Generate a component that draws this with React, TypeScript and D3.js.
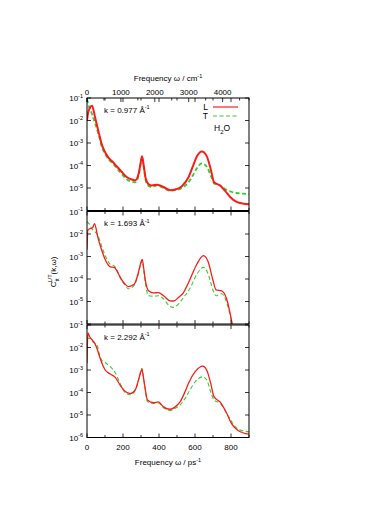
import React from "react";
import * as d3 from "d3";

// frequency grids (ps^-1) and spectra
const w1 = [0, 8, 28, 46, 64, 83, 100, 120, 145, 166, 195, 222, 250, 268, 288, 298, 306, 315, 327, 345, 360, 390, 430, 462, 490, 527, 564, 591, 610, 638, 665, 688, 706, 739, 767, 798, 831, 870, 900];
const L1 = [1e-2, 2.5e-2, 4.5e-2, 1.26e-2, 3.2e-3, 8.3e-4, 4e-4, 2.2e-4, 1.4e-4, 9e-5, 5e-5, 3e-5, 2.4e-5, 2.2e-5, 4.8e-5, 1.3e-4, 2.6e-4, 1e-4, 2.5e-5, 1.4e-5, 1.3e-5, 1.4e-5, 1.05e-5, 8e-6, 8.5e-6, 1.2e-5, 3e-5, 1.05e-4, 2.5e-4, 4.2e-4, 2.6e-4, 6.5e-5, 1.8e-5, 1.3e-5, 7.5e-6, 3.8e-6, 2.4e-6, 2e-6, 1.9e-6];
const T1 = [9e-2, 5e-2, 1.9e-2, 7e-3, 2.5e-3, 6.5e-4, 3.3e-4, 1.9e-4, 1.2e-4, 7.5e-5, 4e-5, 2.4e-5, 1.9e-5, 1.8e-5, 4e-5, 1.2e-4, 2.4e-4, 9e-5, 2e-5, 1.2e-5, 1.1e-5, 1.3e-5, 9.5e-6, 7.5e-6, 8e-6, 1e-5, 1.8e-5, 4e-5, 7.5e-5, 1.25e-4, 9e-5, 3.5e-5, 1.6e-5, 1.3e-5, 9e-6, 7e-6, 6e-6, 5.6e-6, 5.5e-6];

const w2 = [0, 5, 15, 30, 42, 59, 81, 101, 129, 151, 165, 181, 212, 230, 262, 286, 298, 307, 315, 323, 342, 369, 397, 425, 462, 480, 508, 536, 573, 610, 647, 674, 698, 717, 748, 776, 798, 812, 830];
const L2 = [2e-3, 1.5e-2, 1.7e-2, 1.85e-2, 2.9e-2, 7.9e-3, 2e-3, 7.4e-4, 3.5e-4, 3.3e-4, 2.4e-4, 1.35e-4, 5.8e-5, 4.6e-5, 5.8e-5, 2e-4, 5e-4, 7.5e-4, 3e-4, 1e-4, 3e-5, 2.4e-5, 2.5e-5, 1.8e-5, 1.07e-5, 1.05e-5, 1.5e-5, 2.5e-5, 1e-4, 4.5e-4, 1.1e-3, 5.5e-4, 1e-4, 3.3e-5, 3e-5, 1.3e-5, 2.3e-6, 6e-7, 1e-7];
const T2 = [3.6e-2, 3.2e-2, 2.6e-2, 1.6e-2, 1.3e-2, 9e-3, 2.9e-3, 1.1e-3, 4.5e-4, 3.8e-4, 2.6e-4, 1.3e-4, 5.2e-5, 3.7e-5, 5.2e-5, 1.8e-4, 4.5e-4, 6.5e-4, 2.6e-4, 8e-5, 1.8e-5, 1.7e-5, 1.8e-5, 1.3e-5, 6e-6, 5.5e-6, 7.7e-6, 1.5e-5, 4e-5, 1.6e-4, 3.3e-4, 1.6e-4, 3.5e-5, 1.8e-5, 2.2e-5, 9e-6, 1.9e-6, 5e-7, 1e-7];

const w3 = [0, 5, 15, 30, 44, 55, 70, 83, 101, 129, 157, 184, 212, 240, 268, 286, 298, 305, 313, 320, 336, 369, 397, 425, 462, 490, 517, 545, 564, 601, 643, 665, 687, 706, 739, 776, 804, 841, 900];
const L3 = [2e-3, 4.5e-2, 3e-2, 2.1e-2, 1.5e-2, 9.2e-3, 3.9e-3, 2e-3, 1e-3, 6.6e-4, 4.7e-4, 2.15e-4, 1.1e-4, 9e-5, 1.3e-4, 3.6e-4, 8e-4, 1.07e-3, 5e-4, 2.15e-4, 4.6e-5, 3.5e-5, 3.8e-5, 2.3e-5, 1.8e-5, 2.3e-5, 3.8e-5, 1.1e-4, 2.6e-4, 8.4e-4, 1.5e-3, 1e-3, 2.6e-4, 6.4e-5, 3.8e-5, 1.2e-5, 4e-6, 2e-6, 1.4e-6];
const T3 = [2.5e-2, 2.6e-2, 2.5e-2, 1.9e-2, 1.5e-2, 1.3e-2, 4.6e-3, 2.6e-3, 2.1e-3, 1.4e-3, 7.6e-4, 2.5e-4, 1e-4, 8e-5, 1.2e-4, 3.5e-4, 8.5e-4, 1.2e-3, 5.5e-4, 2.2e-4, 4e-5, 3.3e-5, 3.4e-5, 2.1e-5, 1.6e-5, 2e-5, 2.8e-5, 5.5e-5, 1e-4, 3e-4, 5e-4, 3.6e-4, 1.1e-4, 4.6e-5, 3.3e-5, 1.2e-5, 5e-6, 2.3e-6, 1.8e-6];

const kLabels = ["0.977", "1.693", "2.292"];
const xTicks = [0, 200, 400, 600, 800];
const xMinor = [100, 300, 500, 700, 900];
const topTicks = [0, 1000, 2000, 3000, 4000];
const topMinor = [500, 1500, 2500, 3500, 4500];
const yExps = [-1, -2, -3, -4, -5, -6];

const CM_PER_PS = 5.3088;
const left = 87, right = 249;
const tops = [98, 211.5, 325];
const ph = 112.5;
const font = "'Liberation Sans', Arial, sans-serif";
const RED = "#ff1a1a";
const GREEN = "#33cc33";

const panels = [
  { w: w1, L: L1, T: T1, lw: 2 },
  { w: w2, L: L2, T: T2, lw: 1.3 },
  { w: w3, L: L3, T: T3, lw: 1.3 },
];

function Pow10({ x, y, e, anchor = "end" }: { x: number; y: number; e: number; anchor?: string }) {
  return (
    <text x={x} y={y} fontSize={8} textAnchor={anchor as any} fontFamily={font}>
      10<tspan dy={-3.5} fontSize={5.5}>{e}</tspan>
    </text>
  );
}

export default function App() {
  const x = d3.scaleLinear().domain([0, 900]).range([left, right]);
  const xTop = d3.scaleLinear().domain([0, 900 * CM_PER_PS]).range([left, right]);

  return (
    <svg width={392} height={508} style={{ position: "absolute", left: 0, top: 0, background: "#fff" }}>
      <defs>
        {tops.map((t, i) => (
          <clipPath id={`clip${i}`} key={i}>
            <rect x={left} y={t} width={right - left} height={ph} />
          </clipPath>
        ))}
      </defs>
      {panels.map((p, i) => {
        const t = tops[i];
        const y = d3.scaleLog().domain([1e-6, 1e-1]).range([t + ph, t]);
        const line = d3
          .line<number>()
          .x((_, j) => x(p.w[j]))
          .y((v) => y(v))
          .curve(d3.curveMonotoneX);
        return (
          <g key={i}>
            <g clipPath={`url(#clip${i})`}>
              <path d={line(p.T) || ""} fill="none" stroke={GREEN} strokeWidth={p.lw - 0.2} strokeDasharray="4,2.5" />
              <path d={line(p.L) || ""} fill="none" stroke={RED} strokeWidth={p.lw} />
            </g>
            {yExps.map((e) => {
              const yy = y(Math.pow(10, e));
              return (
                <g key={e}>
                  <line x1={left} x2={left + 4} y1={yy} y2={yy} stroke="#000" strokeWidth={0.8} />
                  <line x1={right} x2={right - 4} y1={yy} y2={yy} stroke="#000" strokeWidth={0.8} />
                </g>
              );
            })}
            {yExps
              .filter((e) => !(e === -6 && i < 2))
              .map((e) => (
                <Pow10 key={e} x={83} y={y(Math.pow(10, e)) + 3} e={e} />
              ))}
            {xTicks.concat(xMinor).map((v) => {
              const big = xTicks.includes(v);
              return (
                <g key={v}>
                  <line x1={x(v)} x2={x(v)} y1={t + ph} y2={t + ph - (big ? 4 : 2.5)} stroke="#000" strokeWidth={0.8} />
                  <line x1={x(v)} x2={x(v)} y1={t} y2={t + (big ? 4 : 2.5)} stroke="#000" strokeWidth={0.8} />
                </g>
              );
            })}
            <rect x={left} y={t} width={right - left} height={ph} fill="none" stroke="#000" strokeWidth={1} />
            <text x={104} y={t + 14.5} fontSize={8} fontFamily={font}>
              k = {kLabels[i]} Å<tspan dy={-3.5} fontSize={5.5}>-1</tspan>
            </text>
          </g>
        );
      })}

      {/* top axis in cm^-1 */}
      {topTicks.concat(topMinor).map((v) => {
        const big = topTicks.includes(v);
        const xx = xTop(v);
        if (xx > right + 0.5) return null;
        return (
          <line key={v} x1={xx} x2={xx} y1={tops[0]} y2={tops[0] + (big ? 4 : 2.5)} stroke="#000" strokeWidth={0.8} />
        );
      })}
      {topTicks.map((v) => (
        <text key={v} x={xTop(v)} y={95} fontSize={8} textAnchor="middle" fontFamily={font}>
          {v}
        </text>
      ))}
      <text x={(left + right) / 2} y={81} fontSize={8} textAnchor="middle" fontFamily={font}>
        Frequency ω / cm<tspan dy={-3.5} fontSize={5.5}>-1</tspan>
      </text>

      {/* bottom axis */}
      {xTicks.map((v) => (
        <text key={v} x={x(v)} y={450} fontSize={8} textAnchor="middle" fontFamily={font}>
          {v}
        </text>
      ))}
      <text x={(left + right) / 2} y={465} fontSize={8} textAnchor="middle" fontFamily={font}>
        Frequency ω / ps<tspan dy={-3.5} fontSize={5.5}>-1</tspan>
      </text>

      {/* legend */}
      <text x={208} y={110} fontSize={8.5} textAnchor="end" fontFamily={font}>L</text>
      <line x1={213} x2={238} y1={107} y2={107} stroke={RED} strokeWidth={1.2} />
      <text x={208} y={119} fontSize={8.5} textAnchor="end" fontFamily={font}>T</text>
      <line x1={213} x2={238} y1={116} y2={116} stroke={GREEN} strokeWidth={1.1} strokeDasharray="4,2.5" />
      <text x={214} y={131} fontSize={8.5} fontFamily={font}>
        H<tspan dy={2.5} fontSize={6}>2</tspan><tspan dy={-2.5}>O</tspan>
      </text>

      {/* y label */}
      <text transform="translate(56,272) rotate(-90)" fontSize={8} textAnchor="middle" fontFamily={font}>
        C<tspan dy={2.5} fontSize={5.5}>tt</tspan>
        <tspan dy={-6.5} dx={-4} fontSize={5.5}>L/T</tspan>
        <tspan dy={4}>(k,ω)</tspan>
      </text>
    </svg>
  );
}
